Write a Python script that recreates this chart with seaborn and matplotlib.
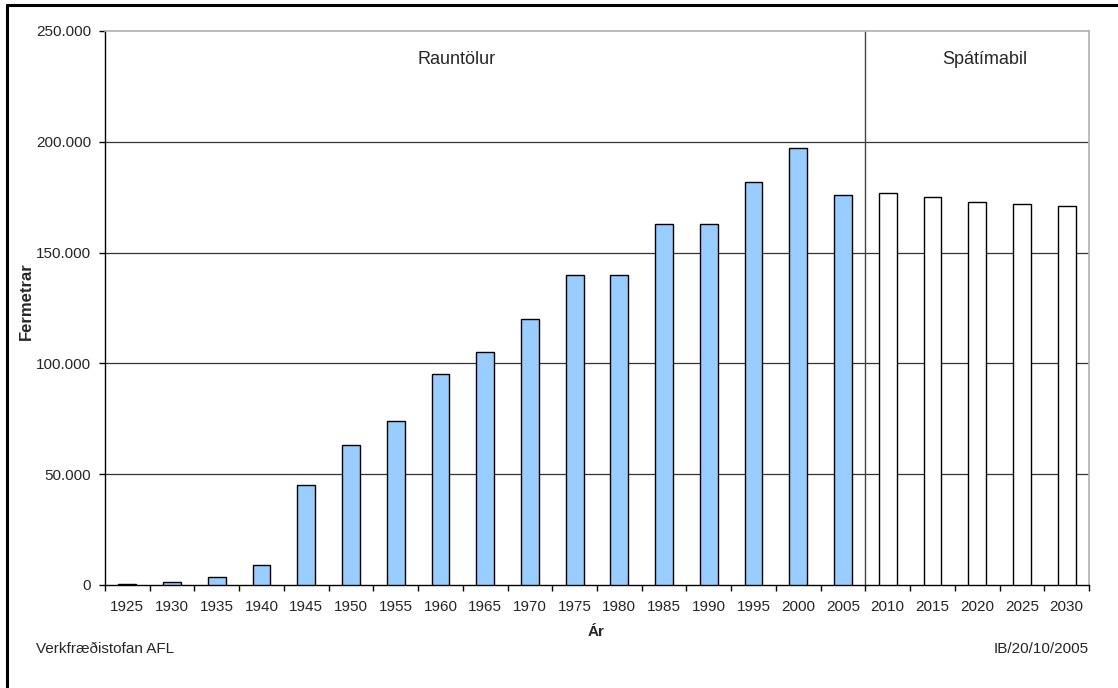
import numpy as np
import pandas as pd
import matplotlib
matplotlib.use("Agg")
import matplotlib.pyplot as plt
from matplotlib.lines import Line2D
from matplotlib.ticker import FuncFormatter
import seaborn as sns

years = [1925, 1930, 1935, 1940, 1945, 1950, 1955, 1960, 1965, 1970, 1975,
         1980, 1985, 1990, 1995, 2000, 2005, 2010, 2015, 2020, 2025, 2030]
values = [300, 1200, 3700, 9200, 45000, 63000, 74000, 95000, 105000, 120000, 140000,
          140000, 163000, 163000, 182000, 197000, 176000, 177000, 175000, 173000, 172000, 171000]
last_actual_year = 2005
period_labels = ["Rauntölur", "Spátímabil"]
period_colors = {"Rauntölur": "#99CCFF", "Spátímabil": "#FFFFFF"}

df = pd.DataFrame({
    "year": [str(y) for y in years],
    "value": values,
    "period": [period_labels[0] if y <= last_actual_year else period_labels[1] for y in years],
})

sns.set_theme(style="white")
plt.rcParams["font.family"] = ["Liberation Sans", "DejaVu Sans"]

W, H = 1118, 688
fig = plt.figure(figsize=(W / 100, H / 100), dpi=100)
L, R, T, B = 105, 1089, 31, 585
ax = fig.add_axes([L / W, 1 - B / H, (R - L) / W, (B - T) / H])

sns.barplot(data=df, x="year", y="value", hue="period", palette=period_colors,
            dodge=False, width=0.4, edgecolor="black", linewidth=1.0, saturation=1,
            legend=False, ax=ax, zorder=3)

n = len(years)
ax.set_xlim(-0.5, n - 0.5)
ax.set_ylim(0, 250000)
ax.set_yticks(np.arange(0, 250001, 50000))
ax.yaxis.set_major_formatter(FuncFormatter(lambda v, p: f"{int(v):,}".replace(",", ".")))

# category boundaries as major ticks, labels at centres via minor ticks
ax.set_xticks(np.arange(-0.5, n, 1.0))
ax.set_xticklabels([""] * (n + 1))
ax.set_xticks(np.arange(n), minor=True)
ax.set_xticklabels([str(y) for y in years], minor=True)
ax.tick_params(axis="x", which="major", direction="out", length=4, width=1, color="black", bottom=True)
ax.tick_params(axis="x", which="minor", length=0, pad=11, labelsize=11, bottom=True)
ax.tick_params(axis="y", direction="out", length=4, width=1, color="black", pad=6, labelsize=11, left=True)

for v in np.arange(50000, 250000, 50000):
    ax.axhline(v, color="#333333", lw=0.9, zorder=1)

for s in ["left", "bottom"]:
    ax.spines[s].set_color("black")
    ax.spines[s].set_linewidth(1.0)
for s in ["top", "right"]:
    ax.spines[s].set_color("#b0b0b0")
    ax.spines[s].set_linewidth(1.2)

# divider between actual and forecast
n_actual = sum(1 for y in years if y <= last_actual_year)
ax.axvline(n_actual - 0.5, color="#444444", lw=1.0, zorder=2)

ax.text(0.357, 0.949, period_labels[0], transform=ax.transAxes, ha="center", va="center", fontsize=13)
ax.text(0.894, 0.949, period_labels[1], transform=ax.transAxes, ha="center", va="center", fontsize=13)

ax.set_xlabel("")
ax.set_ylabel("")
fig.text(26 / W, 1 - 301 / H, "Fermetrar", rotation=90, ha="center", va="center",
         fontsize=12, fontweight="bold")
fig.text(596 / W, 1 - 632 / H, "Ár", ha="center", va="center", fontsize=11, fontweight="bold")
fig.text(36 / W, 1 - 649 / H, "Verkfræðistofan AFL", ha="left", va="center", fontsize=11)
fig.text(1089 / W, 1 - 649 / H, "IB/20/10/2005", ha="right", va="center", fontsize=11)

# outer frame (top and left edges visible)
fig.add_artist(Line2D([7 / W, 1.0], [1 - 5 / H, 1 - 5 / H], color="black", lw=2.2, transform=fig.transFigure))
fig.add_artist(Line2D([7 / W, 7 / W], [1 - 5 / H, 0.0], color="black", lw=2.2, transform=fig.transFigure))

fig.savefig("out.png", dpi=100, facecolor="white")
